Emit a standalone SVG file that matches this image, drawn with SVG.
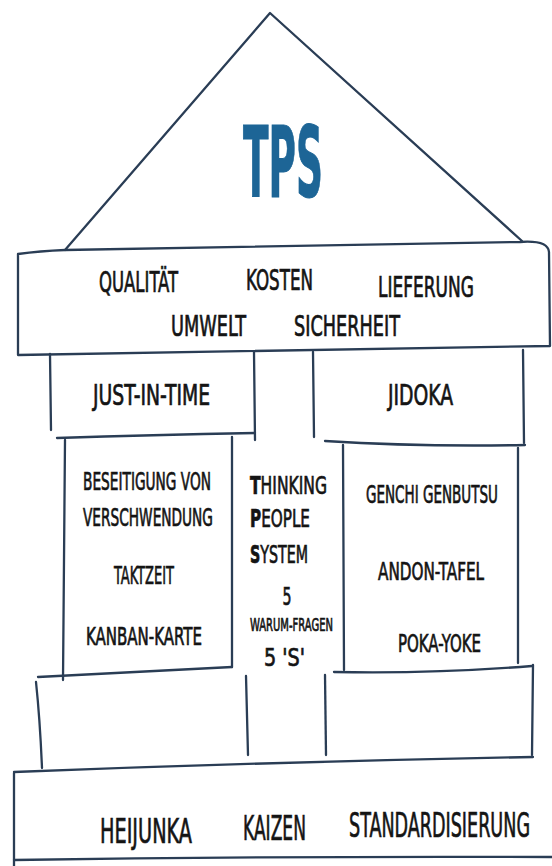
<svg xmlns="http://www.w3.org/2000/svg" width="552" height="866" viewBox="0 0 552 866">
<style>
.ln{fill:none;stroke:#2a3d55;stroke-width:2.3;stroke-linecap:round;stroke-linejoin:round}
text{font-family:"DejaVu Sans Condensed","DejaVu Sans","Liberation Sans",sans-serif;fill:#141414;stroke:#141414;stroke-width:0.7}
.r{font-size:28px}
.c{font-size:25px}
.b{font-size:34px}
.s{font-size:18px}
.tps{font-size:98px;fill:#1d6596;stroke:#1d6596;stroke-width:1;font-weight:bold}
</style>
<rect width="552" height="866" fill="#ffffff"/>
<g id="roof">
<path class="ln" d="M65,250 L270,13 L522,241"/>
<text class="tps" transform="translate(243,197) scale(0.45,1)" textLength="177.8" lengthAdjust="spacingAndGlyphs">TPS</text>
</g>
<g id="goals">
<path class="ln" d="M18,355 L18,254 Q40,251 65,250 L520,242 Q548,240 549,252 L550,346 Q300,351 18,355"/>
<text class="r" transform="translate(99,292) scale(0.67,1)" textLength="117.9" lengthAdjust="spacingAndGlyphs">QUALITÄT</text>
<text class="r" transform="translate(246,290) scale(0.67,1)" textLength="100" lengthAdjust="spacingAndGlyphs">KOSTEN</text>
<text class="r" transform="translate(378,297) scale(0.67,1)" textLength="143.3" lengthAdjust="spacingAndGlyphs">LIEFERUNG</text>
<text class="r" transform="translate(171,336) scale(0.67,1)" textLength="111.9" lengthAdjust="spacingAndGlyphs">UMWELT</text>
<text class="r" transform="translate(294,336) scale(0.67,1)" textLength="158.2" lengthAdjust="spacingAndGlyphs">SICHERHEIT</text>
</g>
<g id="jit">
<path class="ln" d="M50,354 L51,430"/>
<path class="ln" d="M254,352 L255,440"/>
<path class="ln" d="M57,438 Q150,435 255,433"/>
<text class="r" transform="translate(93,405) scale(0.72,1)" textLength="162.5" lengthAdjust="spacingAndGlyphs">JUST-IN-TIME</text>
</g>
<g id="jidoka">
<path class="ln" d="M313,352 L314,437"/>
<path class="ln" d="M523,350 L524,443"/>
<path class="ln" d="M325,441 Q420,447 525,445"/>
<text class="r" transform="translate(388,405) scale(0.72,1)" textLength="90.3" lengthAdjust="spacingAndGlyphs">JIDOKA</text>
</g>
<g id="jit-tools">
<path class="ln" d="M65,440 L63,680"/>
<path class="ln" d="M232,437 L232,667"/>
<text class="c" transform="translate(83,490) scale(0.63,1)" textLength="203.2" lengthAdjust="spacingAndGlyphs">BESEITIGUNG VON</text>
<text class="c" transform="translate(83,526) scale(0.63,1)" textLength="206.3" lengthAdjust="spacingAndGlyphs">VERSCHWENDUNG</text>
<text class="c" transform="translate(114,584) scale(0.63,1)" textLength="95.2" lengthAdjust="spacingAndGlyphs">TAKTZEIT</text>
<text class="c" transform="translate(86,645) scale(0.63,1)" textLength="184.1" lengthAdjust="spacingAndGlyphs">KANBAN-KARTE</text>
</g>
<g id="people">
<text class="c" transform="translate(250,494) scale(0.63,1)" textLength="122.2" lengthAdjust="spacingAndGlyphs"><tspan font-weight="bold">T</tspan>HINKING</text>
<text class="c" transform="translate(250,527) scale(0.63,1)" textLength="95.2" lengthAdjust="spacingAndGlyphs"><tspan font-weight="bold">P</tspan>EOPLE</text>
<text class="c" transform="translate(250,563) scale(0.63,1)" textLength="92.1" lengthAdjust="spacingAndGlyphs"><tspan font-weight="bold">S</tspan>YSTEM</text>
<text class="c" transform="translate(287,605) scale(0.63,1)" text-anchor="middle">5</text>
<text class="s" transform="translate(250,631) scale(0.63,1)" textLength="131.7" lengthAdjust="spacingAndGlyphs">WARUM-FRAGEN</text>
<text class="c" transform="translate(264,666) scale(0.63,1)" textLength="65" lengthAdjust="spacingAndGlyphs">5 'S'</text>
</g>
<g id="jidoka-tools">
<path class="ln" d="M343,445 L344,670"/>
<path class="ln" d="M518,448 L518,663"/>
<text class="c" transform="translate(366,503) scale(0.63,1)" textLength="209.5" lengthAdjust="spacingAndGlyphs">GENCHI GENBUTSU</text>
<text class="c" transform="translate(378,580) scale(0.63,1)" textLength="168.3" lengthAdjust="spacingAndGlyphs">ANDON-TAFEL</text>
<text class="c" transform="translate(398,652) scale(0.63,1)" textLength="131.7" lengthAdjust="spacingAndGlyphs">POKA-YOKE</text>
</g>
<g id="base-left">
<path class="ln" d="M38,677 Q140,672 232,667"/>
<path class="ln" d="M36,682 Q40,720 42,768"/>
<path class="ln" d="M246,676 L248,755"/>
</g>
<g id="base-right">
<path class="ln" d="M334,672 Q430,674 532,666"/>
<path class="ln" d="M325,675 L326,755"/>
<path class="ln" d="M533,665 L532,755"/>
</g>
<g id="foundation">
<path class="ln" d="M14,772 Q270,762 533,757"/>
<path class="ln" d="M14,773 L14,866"/>
<path class="ln" d="M14,860 Q280,856 552,857"/>
<text class="b" transform="translate(100,843) scale(0.58,1)" textLength="158.6" lengthAdjust="spacingAndGlyphs">HEIJUNKA</text>
<text class="b" transform="translate(243,840) scale(0.58,1)" textLength="108.6" lengthAdjust="spacingAndGlyphs">KAIZEN</text>
<text class="b" transform="translate(349,837) scale(0.58,1)" textLength="312.1" lengthAdjust="spacingAndGlyphs">STANDARDISIERUNG</text>
</g>
</svg>
